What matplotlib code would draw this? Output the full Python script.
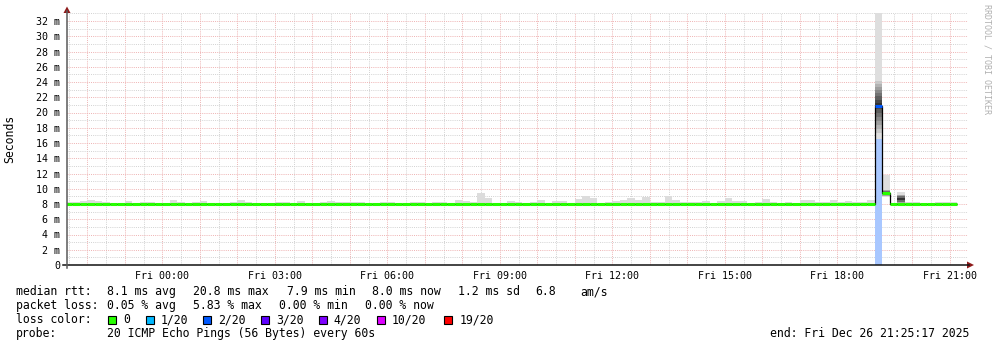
import numpy as np
import matplotlib
matplotlib.use("Agg")
import matplotlib.pyplot as plt
from matplotlib.lines import Line2D
from matplotlib.patches import Polygon, Rectangle

W, H = 997, 347

# ---------------- data ----------------
step_h = 0.2            # 12-minute consolidation step, hours
first_start_h = -2.6    # first interval start (Thu 21:24) relative to Fri 00:00

median_ms = [
    8.0, 8.0, 8.0, 8.0, 8.0, 8.0, 8.0, 8.0, 8.0, 8.0,
    8.0, 8.0, 8.0, 8.0, 8.0, 8.0, 8.0, 8.0, 8.0, 8.0,
    8.0, 8.0, 8.0, 8.0, 8.0, 8.0, 8.0, 8.0, 8.0, 8.0,
    8.0, 8.0, 8.0, 8.0, 8.0, 8.0, 8.0, 8.0, 8.0, 8.0,
    8.0, 8.0, 8.0, 8.0, 8.0, 8.0, 8.0, 8.0, 8.0, 8.0,
    8.0, 8.0, 8.0, 8.0, 8.0, 8.0, 8.0, 8.0, 8.0, 8.0,
    8.0, 8.0, 8.0, 8.0, 8.0, 8.0, 8.0, 8.0, 8.0, 8.0,
    8.0, 8.0, 8.0, 8.0, 8.0, 8.0, 8.0, 8.0, 8.0, 8.0,
    8.0, 8.0, 8.0, 8.0, 8.0, 8.0, 8.0, 8.0, 8.0, 8.0,
    8.0, 8.0, 8.0, 8.0, 8.0, 8.0, 8.0, 8.0, 8.0, 8.0,
    8.0, 8.0, 8.0, 8.0, 8.0, 8.0, 8.0, 8.0, 20.8, 9.4,
    8.0, 8.0, 8.0, 8.0, 8.0, 8.0, 8.0, 8.0, 8.0,
]

smoke_top_ms = [
    8.3, 8.3, 8.4, 8.55, 8.4, 8.3, 8.1, 8.1, 8.4, 8.15,
    8.2, 8.25, 8.15, 8.15, 8.55, 8.25, 8.15, 8.2, 8.4, 8.15,
    8.15, 8.1, 8.25, 8.5, 8.25, 8.1, 8.1, 8.1, 8.25, 8.25,
    8.1, 8.4, 8.1, 8.1, 8.25, 8.4, 8.25, 8.25, 8.25, 8.25,
    8.1, 8.1, 8.25, 8.3, 8.1, 8.1, 8.25, 8.25, 8.1, 8.25,
    8.25, 8.1, 8.5, 8.4, 8.25, 9.4, 8.8, 8.1, 8.1, 8.4,
    8.25, 8.1, 8.25, 8.5, 8.1, 8.4, 8.4, 8.1, 8.65, 9.0,
    8.8, 8.1, 8.25, 8.4, 8.5, 8.8, 8.5, 8.9, 8.2, 8.25,
    9.0, 8.5, 8.25, 8.25, 8.25, 8.4, 8.1, 8.4, 8.8, 8.4,
    8.4, 8.1, 8.2, 8.65, 8.25, 8.1, 8.2, 8.1, 8.5, 8.5,
    8.25, 8.25, 8.5, 8.25, 8.4, 8.2, 8.2, 8.5, 40.0, 11.8,
    8.05, 9.6, 8.2, 8.25, 8.1, 8.1, 8.25, 8.25, 8.2,
]
smoke_floor_ms = 7.85

loss_of_20 = [
    0, 0, 0, 0, 0, 0, 0, 0, 0, 0,
    0, 0, 0, 0, 0, 0, 0, 0, 0, 0,
    0, 0, 0, 0, 0, 0, 0, 0, 0, 0,
    0, 0, 0, 0, 0, 0, 0, 0, 0, 0,
    0, 0, 0, 0, 0, 0, 0, 0, 0, 0,
    0, 0, 0, 0, 0, 0, 0, 0, 0, 0,
    0, 0, 0, 0, 0, 0, 0, 0, 0, 0,
    0, 0, 0, 0, 0, 0, 0, 0, 0, 0,
    0, 0, 0, 0, 0, 0, 0, 0, 0, 0,
    0, 0, 0, 0, 0, 0, 0, 0, 0, 0,
    0, 0, 0, 0, 0, 0, 0, 0, 2, 0,
    0, 0, 0, 0, 0, 0, 0, 0, 0,
]

# sorted ping times (ms) for the intervals with visible smoke structure
detailed_pings = {
    108: [16.5, 17.3, 17.9, 18.4, 18.9, 19.4, 19.9, 20.4, 20.8, 21.2,
          21.7, 22.2, 22.6, 23.0, 23.4, 23.8, 24.1, 45.0],
    109: [8.9, 9.1, 9.25, 9.4, 9.55, 9.7, 9.85, 11.8],
    111: [7.9, 8.0, 8.2, 8.5, 8.8, 9.0, 9.2, 9.6],
}

loss_keys = [0, 1, 2, 3, 4, 10, 19]
loss_colors = ['#26ff00', '#00b8ff', '#0059ff', '#5e00ff', '#7e00ff', '#dd00ff', '#ff0000']
loss_labels = ['0', '1/20', '2/20', '3/20', '4/20', '10/20', '19/20']

x_tick_hours = [0, 3, 6, 9, 12, 15, 18, 21]
x_tick_labels = ['Fri 00:00', 'Fri 03:00', 'Fri 06:00', 'Fri 09:00',
                 'Fri 12:00', 'Fri 15:00', 'Fri 18:00', 'Fri 21:00']
y_tick_values = [0, 2, 4, 6, 8, 10, 12, 14, 16, 18, 20, 22, 24, 26, 28, 30, 32]
y_tick_labels = ['0', '2 m', '4 m', '6 m', '8 m', '10 m', '12 m', '14 m', '16 m',
                 '18 m', '20 m', '22 m', '24 m', '26 m', '28 m', '30 m', '32 m']

rtt_title = 'median rtt:'
rtt_items = ['8.1 ms avg', '20.8 ms max', '7.9 ms min', '8.0 ms now', '1.2 ms sd', '6.8', 'am/s']
loss_title = 'packet loss:'
loss_items = ['0.05 % avg', '5.83 % max', '0.00 % min', '0.00 % now']
color_title = 'loss color:'
probe_title = 'probe:'
probe_text = '20 ICMP Echo Pings (56 Bytes) every 60s'
end_text = 'end: Fri Dec 26 21:25:17 2025'
y_title = 'Seconds'
watermark = 'RRDTOOL / TOBI OETIKER'

# ---------------- layout ----------------
MONO = 'DejaVu Sans Mono'
plt.rcParams['font.family'] = [MONO]

def fx(x):
    return x / W

def fy(y):
    return 1 - y / H

px_left, px_right, px_bottom = 67, 968, 265
px_per_hour = 37.5
px_zero_hour = 162.3
px_per_ms = 7.625
y_top_ms = 33.05
px_top = px_bottom - y_top_ms * px_per_ms

fig = plt.figure(figsize=(W / 100, H / 100), dpi=100)
fig.patch.set_facecolor('white')
ax = fig.add_axes([fx(px_left), fy(px_bottom), (px_right - px_left) / W, (px_bottom - px_top) / H])
ax.set_facecolor('white')
x0 = (px_left - px_zero_hour) / px_per_hour
x1 = (px_right - px_zero_hour) / px_per_hour
ax.set_xlim(x0, x1)
ax.set_ylim(0, y_top_ms)
for s in ax.spines.values():
    s.set_visible(False)

# grid (dotted)
dash = (0, (1.0, 1.2))
minor_col = '#d2d2d2'
major_col = '#eeb2b2'
for hh in np.arange(-2.5, 21.6, 0.5):
    if x0 < hh < x1:
        major = abs(hh - round(hh)) < 1e-6
        ax.axvline(hh, color=major_col if major else minor_col, lw=0.7,
                   linestyle=dash, zorder=1)
for yy in np.arange(1, 34, 1):
    major = yy % 2 == 0
    ax.axhline(yy, color=major_col if major else minor_col, lw=0.7,
               linestyle=dash, zorder=1)

n = len(median_ms)
starts = first_start_h + step_h * np.arange(n)
edges = first_start_h + step_h * np.arange(n + 1)
color_of = dict(zip(loss_keys, loss_colors))

def lighten(c, keep=0.34):
    r, g, b = matplotlib.colors.to_rgb(c)
    return (1 - keep + keep * r, 1 - keep + keep * g, 1 - keep + keep * b)

# loss background bars
for i in range(n):
    if loss_of_20[i] > 0:
        ax.bar(starts[i], y_top_ms, bottom=0, width=step_h, align='edge',
               color=lighten(color_of[loss_of_20[i]]), lw=0, zorder=1.5)

# generic smoke
gen = [i for i in range(n) if i not in detailed_pings]
ax.bar(starts[gen], np.array(smoke_top_ms)[gen] - smoke_floor_ms, bottom=smoke_floor_ms,
       width=step_h, align='edge', color='#dcdcdc', lw=0, zorder=2)

# detailed smoke layers
for i, pings in detailed_pings.items():
    m = len(pings)
    c = (m - 2) / 2
    for j in range(m - 1):
        d = abs(j - c) / c
        g = 0.2 + 0.67 * d
        ax.bar(starts[i], pings[j + 1] - pings[j], bottom=pings[j], width=step_h,
               align='edge', color=(g, g, g), lw=0, zorder=2)

# black median step line
ax.stairs(median_ms, edges, baseline=None, color='#000000', lw=0.9, zorder=3)
# coloured median band
ax.hlines(median_ms, starts, starts + step_h,
          colors=[color_of[l] for l in loss_of_20], lw=2.2, zorder=4, capstyle='butt')

# ticks
ax.set_xticks(x_tick_hours)
ax.set_xticklabels(x_tick_labels)
ax.set_yticks(y_tick_values)
ax.set_yticklabels(y_tick_labels)
ax.tick_params(axis='both', length=0, labelsize=7.2, colors='black')
ax.tick_params(axis='x', pad=4.2)
ax.tick_params(axis='y', pad=5.0)

# axis lines & arrows
fig.add_artist(Line2D([fx(63), fx(969)], [fy(265), fy(265)], color='#111111', lw=1.1))
fig.add_artist(Line2D([fx(67), fx(67)], [fy(268), fy(11)], color='#5a5a5a', lw=1.1))
arrow_col = '#8e1a1a'
fig.add_artist(Polygon([(fx(967), fy(261.5)), (fx(967), fy(268.5)), (fx(974), fy(265))],
                       closed=True, color=arrow_col, lw=0))
fig.add_artist(Polygon([(fx(63.5), fy(13)), (fx(70.5), fy(13)), (fx(67), fy(6.5))],
                       closed=True, color=arrow_col, lw=0))

# labels
fig.text(fx(10), fy(139), y_title, rotation=90, ha='center', va='center', fontsize=8.3)
fig.text(fx(987), fy(4), watermark, rotation=270, ha='center', va='top',
         fontsize=6.0, color='#b0b0b0')

fs = 8.3
base = [295.2, 309.0, 323.2, 337.2]
fig.text(fx(16), fy(base[0]), rtt_title, fontsize=fs, va='baseline')
for txt, xp in zip(rtt_items, [107.3, 193.3, 286.7, 372.3, 458.3, 535, 580]):
    fig.text(fx(xp), fy(base[0]), txt, fontsize=fs, va='baseline')
fig.text(fx(16), fy(base[1]), loss_title, fontsize=fs, va='baseline')
for txt, xp in zip(loss_items, [107.3, 193.3, 279.3, 365]):
    fig.text(fx(xp), fy(base[1]), txt, fontsize=fs, va='baseline')
fig.text(fx(16), fy(base[2]), color_title, fontsize=fs, va='baseline')
box_x = [108.3, 145.7, 203.3, 261, 319, 376.7, 444.3]
lab_x = [123.3, 160.3, 218.3, 276, 333.7, 391.7, 459.3]
for col, lab, bx, lx in zip(loss_colors, loss_labels, box_x, lab_x):
    fig.add_artist(Rectangle((fx(bx), fy(323.5)), 8 / W, 8 / H, facecolor=col,
                             edgecolor='black', lw=0.8))
    fig.text(fx(lx), fy(base[2]), lab, fontsize=fs, va='baseline')
fig.text(fx(16), fy(base[3]), probe_title, fontsize=fs, va='baseline')
fig.text(fx(107.3), fy(base[3]), probe_text, fontsize=fs, va='baseline')
fig.text(fx(969.5), fy(base[3]), end_text, fontsize=fs, va='baseline', ha='right')

fig.savefig('out.png', dpi=100, facecolor='white')
